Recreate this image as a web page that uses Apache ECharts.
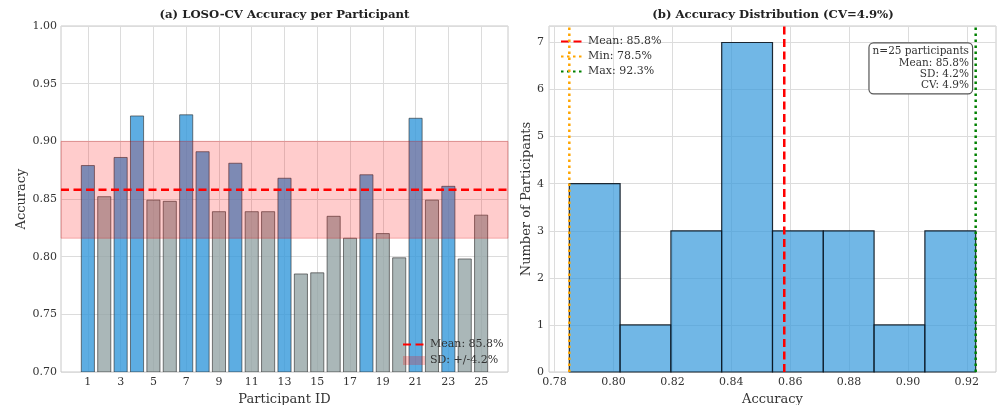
<!DOCTYPE html>
<html><head><meta charset="utf-8">
<script src="https://cdn.jsdelivr.net/npm/echarts@6/dist/echarts.min.js"></script>
<style>html,body{margin:0;padding:0;background:#fff;overflow:hidden}#c{width:997px;height:405px}</style>
</head><body><div id="c"></div>
<script>
// ---- data ----
const participants = [1,2,3,4,5,6,7,8,9,10,11,12,13,14,15,16,17,18,19,20,21,22,23,24,25];
const accuracy = [0.879,0.852,0.886,0.922,0.849,0.848,0.923,0.891,0.839,0.881,0.839,0.839,0.868,0.785,0.786,0.835,0.816,0.871,0.820,0.799,0.920,0.849,0.861,0.798,0.836];
const meanAcc = 0.858;
const sdAcc = 0.042;
const minAcc = 0.785;
const maxAcc = 0.923;
const cvPct = 4.9;
const nParticipants = 25;
const xTicksA = [1,3,5,7,9,11,13,15,17,19,21,23,25];
const histEdges = [0.785,0.80225,0.8195,0.83675,0.854,0.87125,0.8885,0.90575,0.923];
const histCounts = [4,1,3,7,3,3,1,3];
const xTicksB = [0.78,0.80,0.82,0.84,0.86,0.88,0.90,0.92];

// axis ranges
const xMinA = -0.64, xMaxA = 26.64, yMinA = 0.70, yMaxA = 1.00;
const xMinB = 0.7781, xMaxB = 0.9299, yMinB = 0, yMaxB = 7.35;

const FONT = '"DejaVu Serif", "Liberation Serif", serif';
const TXT = '#333';
const GRIDC = '#dcdcdc';
const BORDER = '#c8c8c8';
const BLUE_BAR = 'rgba(52,152,219,0.8)';
const GRAY_BAR = 'rgba(149,165,166,0.8)';

const chart = echarts.init(document.getElementById('c'));

const barData = participants.map((p, i) => [p, accuracy[i]]);
const histData = histCounts.map((c, i) => [histEdges[i], histEdges[i+1], c]);

function axisCommon() {
  return {
    axisLine: {show: false},
    axisTick: {show: false},
    axisLabel: {color: TXT, fontFamily: FONT, fontSize: 11},
    splitLine: {show: true, lineStyle: {color: GRIDC, width: 1}},
    nameTextStyle: {color: TXT, fontFamily: FONT, fontSize: 13}
  };
}
const meanName = 'Mean: ' + (meanAcc*100).toFixed(1) + '%';
const sdName = 'SD: +/-' + (sdAcc*100).toFixed(1) + '%';
const minName = 'Min: ' + (minAcc*100).toFixed(1) + '%';
const maxName = 'Max: ' + (maxAcc*100).toFixed(1) + '%';
const hide = {opacity: 0};

const option = {
  animation: false,
  backgroundColor: '#fff',
  grid: [
    {left: 61, right: 489, top: 26, bottom: 33, show: true, borderColor: BORDER, borderWidth: 1, containLabel: false, outerBoundsMode: 'none'},
    {left: 549, right: 1, top: 26, bottom: 33, show: true, borderColor: BORDER, borderWidth: 1, containLabel: false, outerBoundsMode: 'none'}
  ],
  xAxis: [
    Object.assign(axisCommon(), {
      type: 'value', gridIndex: 0, min: xMinA, max: xMaxA,
      name: 'Participant ID', nameLocation: 'middle', nameGap: 16,
      axisTick: {show: false, customValues: xTicksA},
      axisLabel: {color: TXT, fontFamily: FONT, fontSize: 11, margin: 5, customValues: xTicksA, formatter: v => String(v)}
    }),
    Object.assign(axisCommon(), {
      type: 'value', gridIndex: 1, min: xMinB, max: xMaxB,
      name: 'Accuracy', nameLocation: 'middle', nameGap: 16,
      axisTick: {show: false, customValues: xTicksB},
      axisLabel: {color: TXT, fontFamily: FONT, fontSize: 11, margin: 5, customValues: xTicksB, formatter: v => v.toFixed(2)}
    })
  ],
  yAxis: [
    Object.assign(axisCommon(), {
      type: 'value', gridIndex: 0, min: yMinA, max: yMaxA, interval: 0.05,
      name: 'Accuracy', nameLocation: 'middle', nameGap: 33,
      axisLabel: {color: TXT, fontFamily: FONT, fontSize: 11, margin: 4, formatter: v => v.toFixed(2)}
    }),
    Object.assign(axisCommon(), {
      type: 'value', gridIndex: 1, min: yMinB, max: yMaxB, interval: 1,
      name: 'Number of Participants', nameLocation: 'middle', nameGap: 16,
      axisLabel: {color: TXT, fontFamily: FONT, fontSize: 11, margin: 5, formatter: v => Number.isInteger(v) ? String(v) : ''}
    })
  ],
  legend: [
    {
      orient: 'vertical', left: 397, top: 334, itemWidth: 22, itemHeight: 9, itemGap: 5,
      textStyle: {color: TXT, fontFamily: FONT, fontSize: 11},
      data: [{name: meanName, itemStyle: hide}, {name: sdName, icon: 'rect'}]
    },
    {
      orient: 'vertical', left: 555, top: 31, itemWidth: 22, itemHeight: 9, itemGap: 4,
      textStyle: {color: TXT, fontFamily: FONT, fontSize: 11},
      data: [{name: meanName, itemStyle: hide}, {name: minName, itemStyle: hide}, {name: maxName, itemStyle: hide}]
    }
  ],
  graphic: [
    {type: 'text', x: 284.5, y: 15, style: {text: '(a) LOSO-CV Accuracy per Participant', align: 'center', verticalAlign: 'middle', font: 'bold 11.7px ' + FONT, fill: '#222'}},
    {type: 'text', x: 773, y: 15, style: {text: '(b) Accuracy Distribution (CV=' + cvPct.toFixed(1) + '%)', align: 'center', verticalAlign: 'middle', font: 'bold 11.7px ' + FONT, fill: '#222'}},
    {type: 'text', x: 972, y: 43.5, z: 100, style: {
      text: 'n=' + nParticipants + ' participants\nMean: ' + (meanAcc*100).toFixed(1) + '%\nSD: ' + (sdAcc*100).toFixed(1) + '%\nCV: ' + cvPct.toFixed(1) + '%',
      align: 'right', verticalAlign: 'top', font: '10.5px ' + FONT, fill: TXT, lineHeight: 11.2,
      backgroundColor: '#fff', borderColor: '#555', borderWidth: 1.2, borderRadius: 4, padding: [2.5, 3, 2.5, 3]
    }}
  ],
  series: [
    {
      type: 'custom', name: 'bars', xAxisIndex: 0, yAxisIndex: 0, z: 2, clip: true,
      data: barData,
      renderItem: function (params, api) {
        const x = api.value(0), y = api.value(1);
        const p1 = api.coord([x - 0.4, y]);
        const p2 = api.coord([x + 0.4, yMinA]);
        return {type: 'rect', shape: {x: p1[0], y: p1[1], width: p2[0] - p1[0], height: p2[1] - p1[1]},
          style: {fill: y > meanAcc ? BLUE_BAR : GRAY_BAR, stroke: 'rgba(40,40,40,0.6)', lineWidth: 1}};
      }
    },
    {
      type: 'custom', name: sdName, xAxisIndex: 0, yAxisIndex: 0, z: 3,
      itemStyle: {color: 'rgba(255,0,0,0.22)'},
      data: [[meanAcc - sdAcc, meanAcc + sdAcc]],
      renderItem: function (params, api) {
        const p1 = api.coord([xMinA, api.value(1)]);
        const p2 = api.coord([xMaxA, api.value(0)]);
        return {type: 'rect', shape: {x: p1[0], y: p1[1], width: p2[0] - p1[0], height: p2[1] - p1[1]},
          style: {fill: 'rgba(255,0,0,0.2)', stroke: 'rgba(220,0,0,0.25)', lineWidth: 1}};
      }
    },
    {
      type: 'line', name: meanName, xAxisIndex: 0, yAxisIndex: 0, z: 4,
      symbol: 'none', data: [[xMinA, meanAcc], [xMaxA, meanAcc]],
      lineStyle: {color: '#ff0000', width: 2.5, type: [8, 4.5]}, itemStyle: {color: '#ff0000'}
    },
    {
      type: 'custom', name: 'hist', xAxisIndex: 1, yAxisIndex: 1, z: 2,
      data: histData,
      renderItem: function (params, api) {
        const p1 = api.coord([api.value(0), api.value(2)]);
        const p2 = api.coord([api.value(1), 0]);
        return {type: 'rect', shape: {x: p1[0], y: p1[1], width: p2[0] - p1[0], height: p2[1] - p1[1]},
          style: {fill: 'rgba(52,152,219,0.7)', stroke: 'rgba(10,20,30,0.9)', lineWidth: 1.2}};
      }
    },
    {
      type: 'line', name: meanName, xAxisIndex: 1, yAxisIndex: 1, z: 4,
      symbol: 'none', data: [[meanAcc, yMinB], [meanAcc, yMaxB]],
      lineStyle: {color: '#ff0000', width: 2.5, type: [8, 4.5]}, itemStyle: {color: '#ff0000'}
    },
    {
      type: 'line', name: minName, xAxisIndex: 1, yAxisIndex: 1, z: 4,
      symbol: 'none', data: [[minAcc, yMinB], [minAcc, yMaxB]],
      lineStyle: {color: '#FFA500', width: 2.5, type: [2.5, 3.5]}, itemStyle: {color: '#FFA500'}
    },
    {
      type: 'line', name: maxName, xAxisIndex: 1, yAxisIndex: 1, z: 4,
      symbol: 'none', data: [[maxAcc, yMinB], [maxAcc, yMaxB]],
      lineStyle: {color: '#008000', width: 2.5, type: [2.5, 3.5]}, itemStyle: {color: '#008000'}
    }
  ]
};
chart.setOption(option);
</script>
</body></html>
